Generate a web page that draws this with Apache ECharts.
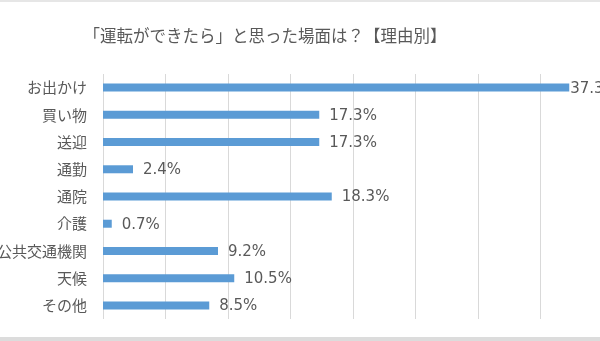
<!DOCTYPE html>
<html>
<head>
<meta charset="utf-8">
<script src="https://cdn.jsdelivr.net/npm/echarts@6/dist/echarts.min.js"></script>
<style>
  html, body { margin: 0; padding: 0; background: #ffffff; }
  #chart { width: 600px; height: 341px; }
</style>
</head>
<body>
<div id="chart"></div>
<script>
// Reasons people wished they could drive (percent of responses)
const titleText = '「運転ができたら」と思った場面は？【理由別】';
const categories = ['お出かけ', '買い物', '送迎', '通勤', '通院', '介護', '公共交通機関', '天候', 'その他'];
const values = [37.3, 17.3, 17.3, 2.4, 18.3, 0.7, 9.2, 10.5, 8.5];

const FONT = '"Noto Sans CJK JP", "Noto Sans", sans-serif';
const NUM_FONT = '"DejaVu Sans", "Noto Sans CJK JP", sans-serif';
const TEXT = '#595959';

const chart = echarts.init(document.getElementById('chart'), null, { renderer: 'canvas' });

// The longest bar runs up to the right edge, so its label sits tight against the bar end
const barData = values.map(function (v, i) {
  const item = { value: v };
  if (i === 0) item.label = { distance: 1 };
  return item;
});

chart.setOption({
  animation: false,
  backgroundColor: '#ffffff',
  title: {
    text: titleText,
    left: 260,
    top: 22,
    textAlign: 'center',
    textStyle: { fontFamily: FONT, fontSize: 16.5, fontWeight: 'normal', color: TEXT }
  },
  graphic: [
    { type: 'rect', shape: { x: 0, y: 0, width: 600, height: 2 }, style: { fill: '#e6e6e6' }, silent: true },
    { type: 'rect', shape: { x: 0, y: 337, width: 600, height: 4 }, style: { fill: '#dcdcdc' }, silent: true }
  ],
  // Plot area runs past the right edge; long category names may spill past the left edge
  grid: { left: 103, top: 74, width: 500, height: 245, containLabel: false, outerBoundsMode: 'none' },
  xAxis: {
    type: 'value',
    min: 0,
    max: 40,
    interval: 5,
    axisLine: { show: false },
    axisTick: { show: false },
    axisLabel: { show: false },
    splitLine: { show: true, lineStyle: { color: '#d9d9d9', width: 1 } }
  },
  yAxis: {
    type: 'category',
    inverse: true,
    data: categories,
    axisLine: { show: false },
    axisTick: { show: false },
    axisLabel: { fontFamily: FONT, fontSize: 15, color: TEXT, margin: 16 }
  },
  series: [{
    type: 'bar',
    data: barData,
    barWidth: 8,
    itemStyle: { color: '#5b9bd5' },
    label: {
      show: true,
      position: 'right',
      distance: 10,
      offset: [0, 1],
      fontFamily: NUM_FONT,
      fontSize: 15,
      color: TEXT,
      formatter: function (p) { return p.value.toFixed(1) + '%'; }
    }
  }]
});
</script>
</body>
</html>
